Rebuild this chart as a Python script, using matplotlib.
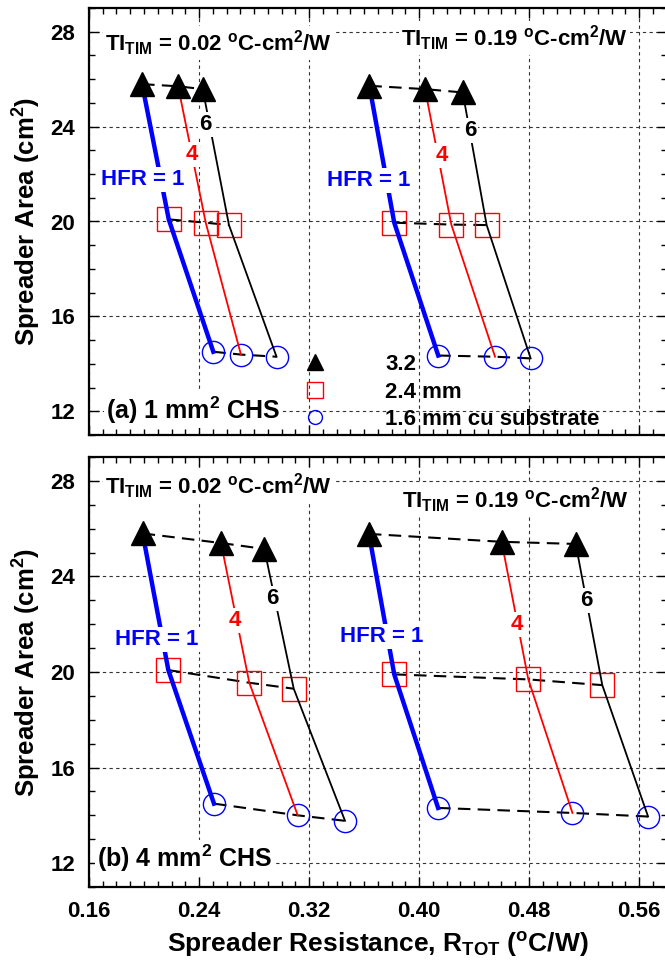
import numpy as np
import matplotlib
matplotlib.use("Agg")
import matplotlib.pyplot as plt
from matplotlib.lines import Line2D
from matplotlib.ticker import MultipleLocator

# ----------------------------
# Fonts
# ----------------------------
plt.rcParams["font.family"] = ["Liberation Sans", "DejaVu Sans"]
plt.rcParams["font.weight"] = "bold"
plt.rcParams["axes.labelweight"] = "bold"
plt.rcParams["mathtext.fontset"] = "custom"
plt.rcParams["mathtext.rm"] = "Liberation Sans:bold"
plt.rcParams["mathtext.bf"] = "Liberation Sans:bold"
plt.rcParams["mathtext.it"] = "Liberation Sans:bold"

# ----------------------------
# Data: rows = spreader thickness (3.2, 2.4, 1.6 mm), cols = HFR (1, 4, 6)
# ----------------------------
hfr = [1, 4, 6]
thickness = ["3.2", "2.4 mm", "1.6 mm cu substrate"]

# (a) 1 mm2 CHS
a_r_tim002 = [[0.1986, 0.2248, 0.2427],
              [0.2180, 0.2449, 0.2618],
              [0.2504, 0.2705, 0.2964]]
a_area_tim002 = [[25.79, 25.70, 25.58],
                 [20.09, 19.95, 19.85],
                 [14.51, 14.39, 14.30]]
a_r_tim019 = [[0.3639, 0.4044, 0.4318],
              [0.3820, 0.4235, 0.4492],
              [0.4140, 0.4553, 0.4812]]
a_area_tim019 = [[25.72, 25.58, 25.44],
                 [19.95, 19.87, 19.85],
                 [14.35, 14.30, 14.23]]

# (b) 4 mm2 CHS
b_r_tim002 = [[0.1990, 0.2560, 0.2875],
              [0.2177, 0.2766, 0.3089],
              [0.2509, 0.3118, 0.3462]]
b_area_tim002 = [[25.80, 25.40, 25.15],
                 [20.08, 19.55, 19.30],
                 [14.49, 14.00, 13.77]]
b_r_tim019 = [[0.3636, 0.4601, 0.5140],
              [0.3820, 0.4795, 0.5333],
              [0.4139, 0.5116, 0.5666]]
b_area_tim019 = [[25.78, 25.45, 25.36],
                 [19.90, 19.69, 19.45],
                 [14.31, 14.10, 13.95]]

# ----------------------------
# Styles
# ----------------------------
hfr_colors = ["blue", "red", "black"]
hfr_widths = [3.2, 1.3, 1.3]
markers = [dict(marker="^", ms=17, mfc="black", mec="black", zorder=5),
           dict(marker="s", ms=17, mfc="none", mec="red", mew=1.0, zorder=3),
           dict(marker="o", ms=16, mfc="none", mec="blue", mew=1.0, zorder=3)]
WHITE = dict(fc="white", ec="none", pad=1.5)


def draw_group(ax, r, area):
    r = np.array(r)
    area = np.array(area)
    # dashed lines joining equal thickness
    for i in range(3):
        ax.plot(r[i], area[i], color="black", lw=1.5, dashes=(6, 3.5), zorder=2)
    # HFR lines
    for j in range(3):
        ax.plot(r[:, j], area[:, j], color=hfr_colors[j], lw=hfr_widths[j], zorder=4)
    for i in range(3):
        ax.plot(r[i], area[i], ls="none", **markers[i])


def setup_axes(ax):
    ax.set_xlim(0.16, 0.58)
    ax.set_ylim(11, 29)
    ax.xaxis.set_major_locator(MultipleLocator(0.08))
    ax.xaxis.set_minor_locator(MultipleLocator(0.01))
    ax.yaxis.set_major_locator(MultipleLocator(4))
    ax.yaxis.set_minor_locator(MultipleLocator(1))
    ax.tick_params(which="both", direction="in", top=True, right=True, width=1.0)
    ax.tick_params(which="major", length=7, labelsize=16, pad=10)
    ax.tick_params(which="minor", length=4)
    for s in ax.spines.values():
        s.set_linewidth(1.6)
    ax.grid(True, which="major", color="0.2", lw=0.8, ls=(0, (3, 3)), zorder=0)
    ax.set_axisbelow(True)
    ax.set_ylabel(r"Spreader Area (cm$^2$)", fontsize=18.5, fontweight="bold", labelpad=5)


fig = plt.figure(figsize=(6.65, 9.64), dpi=100)
ax1 = fig.add_axes([89 / 665, 1 - 435 / 964, 577.5 / 665, 427 / 964])
ax2 = fig.add_axes([89 / 665, 1 - 887 / 964, 577.5 / 665, 430 / 964])

for ax in (ax1, ax2):
    setup_axes(ax)
ax1.xaxis.set_major_formatter(plt.NullFormatter())
ax2.xaxis.set_major_formatter(plt.FuncFormatter(lambda v, p: f"{v:.2f}"))
ax2.set_xlabel(r"Spreader Resistance, R$_\mathrm{TOT}$ ($^\mathrm{o}$C/W)",
               fontsize=19, fontweight="bold", labelpad=6)

# ----------------------------
# (a) panel
# ----------------------------
draw_group(ax1, a_r_tim002, a_area_tim002)
draw_group(ax1, a_r_tim019, a_area_tim019)

ti_lo = r"TI$_\mathrm{TIM}$ = 0.02 $^\mathrm{o}$C-cm$^2$/W"
ti_hi = r"TI$_\mathrm{TIM}$ = 0.19 $^\mathrm{o}$C-cm$^2$/W"
ax1.text(0.1716, 27.52, ti_lo, fontsize=16, ha="left", va="center", bbox=WHITE, zorder=6)
ax1.text(0.3868, 27.73, ti_hi, fontsize=16, ha="left", va="center", bbox=WHITE, zorder=6)

ax1.text(0.1993, 21.78, "HFR = 1", color="blue", fontsize=16, ha="center", va="center", bbox=WHITE, zorder=6)
ax1.text(0.2350, 22.84, "4", color="red", fontsize=16, ha="center", va="center", bbox=WHITE, zorder=6)
ax1.text(0.2449, 24.10, "6", color="black", fontsize=16, ha="center", va="center", bbox=WHITE, zorder=6)
ax1.text(0.3633, 21.71, "HFR = 1", color="blue", fontsize=16, ha="center", va="center", bbox=WHITE, zorder=6)
ax1.text(0.4167, 22.77, "4", color="red", fontsize=16, ha="center", va="center", bbox=WHITE, zorder=6)
ax1.text(0.4370, 23.82, "6", color="black", fontsize=16, ha="center", va="center", bbox=WHITE, zorder=6)

ax1.text(0.1725, 12.05, r"(a) 1 mm$^2$ CHS", fontsize=18, ha="left", va="center", bbox=WHITE, zorder=6)

handles = [Line2D([], [], ls="none", marker="^", ms=12, mfc="black", mec="black"),
           Line2D([], [], ls="none", marker="s", ms=12, mfc="none", mec="red", mew=1.0),
           Line2D([], [], ls="none", marker="o", ms=10, mfc="none", mec="blue", mew=1.0)]
ax1.legend(handles, thickness, loc="upper left", bbox_to_anchor=(0.353, 0.190),
           frameon=False, handlelength=2, handletextpad=2.15, labelspacing=0.3,
           borderpad=0, borderaxespad=0, prop=dict(size=16, weight="bold"))

# ----------------------------
# (b) panel
# ----------------------------
draw_group(ax2, b_r_tim002, b_area_tim002)
draw_group(ax2, b_r_tim019, b_area_tim019)

ax2.text(0.1716, 27.77, ti_lo, fontsize=16, ha="left", va="center", bbox=WHITE, zorder=6)
ax2.text(0.3876, 27.20, ti_hi, fontsize=16, ha="left", va="center", bbox=WHITE, zorder=6)

ax2.text(0.2094, 21.37, "HFR = 1", color="blue", fontsize=16, ha="center", va="center", bbox=WHITE, zorder=6)
ax2.text(0.2657, 22.14, "4", color="red", fontsize=16, ha="center", va="center", bbox=WHITE, zorder=6)
ax2.text(0.2933, 23.09, "6", color="black", fontsize=16, ha="center", va="center", bbox=WHITE, zorder=6)
ax2.text(0.3729, 21.50, "HFR = 1", color="blue", fontsize=16, ha="center", va="center", bbox=WHITE, zorder=6)
ax2.text(0.4708, 22.00, "4", color="red", fontsize=16, ha="center", va="center", bbox=WHITE, zorder=6)
ax2.text(0.5215, 23.00, "6", color="black", fontsize=16, ha="center", va="center", bbox=WHITE, zorder=6)

ax2.text(0.1655, 12.22, r"(b) 4 mm$^2$ CHS", fontsize=18, ha="left", va="center", bbox=WHITE, zorder=6)

fig.savefig("out.png", dpi=100)
